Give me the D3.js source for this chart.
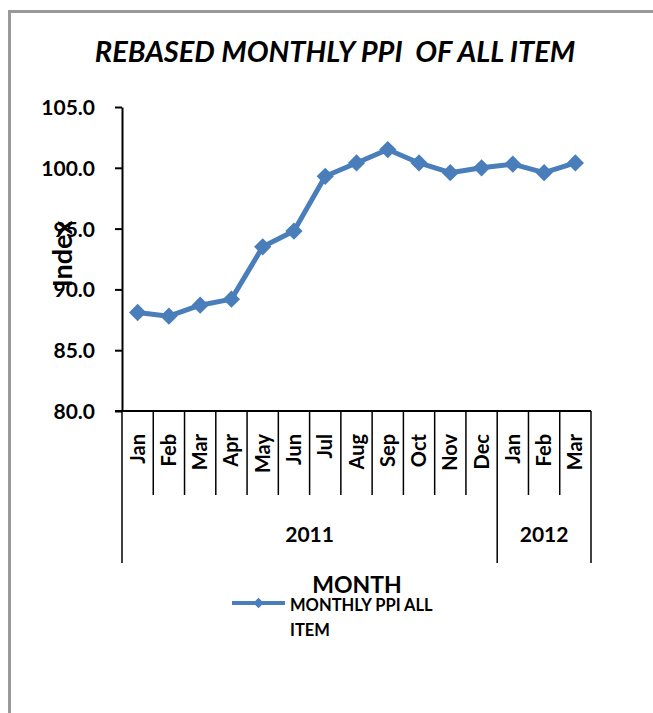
<!DOCTYPE html>
<html>
<head>
<meta charset="utf-8">
<title>Rebased Monthly PPI</title>
<script src="https://d3js.org/d3.v7.min.js"></script>
<style>
body { margin: 0; background: #fff; }
svg text { font-family: Lato, "Open Sans", sans-serif; font-weight: bold; fill: #000; }
</style>
</head>
<body>
<div id="chart"></div>
<script>
// values
var months = ["Jan", "Feb", "Mar", "Apr", "May", "Jun", "Jul", "Aug", "Sep", "Oct", "Nov", "Dec", "Jan", "Feb", "Mar"];
var years = [{label: "2011", start: 0, end: 12}, {label: "2012", start: 12, end: 15}];
var ppi = [88.1, 87.8, 88.7, 89.2, 93.5, 94.8, 99.3, 100.4, 101.5, 100.4, 99.6, 100.0, 100.3, 99.6, 100.4];
var yTicks = [80, 85, 90, 95, 100, 105];

var width = 653, height = 713;
var blue = "#4a7ebb";

var svg = d3.select("#chart").append("svg")
    .attr("width", width)
    .attr("height", height);

/* frame */
svg.append("path")
    .attr("d", "M9.5," + height + "V11.5H" + width)
    .attr("fill", "none")
    .attr("stroke", "#999")
    .attr("stroke-width", 3);

/* scales */
var x = d3.scaleBand()
    .domain(d3.range(months.length))
    .range([122, 591])
    .padding(0);

var y = d3.scaleLinear()
    .domain([80, 105])
    .range([411, 107]);

/* title */
svg.append("text")
    .attr("x", 335)
    .attr("y", 62)
    .attr("text-anchor", "middle")
    .attr("xml:space", "preserve")
    .style("font-size", "29px")
    .style("font-style", "italic")
    .text("REBASED MONTHLY PPI  OF ALL ITEM");

/* y axis */
var yAxis = svg.append("g")
    .attr("transform", "translate(" + x.range()[0] + ",0)")
    .call(d3.axisLeft(y).tickValues(yTicks).tickSize(7).tickSizeOuter(0).tickFormat(d3.format(".1f")));
yAxis.select(".domain").attr("stroke", "#000").attr("stroke-width", 2);
yAxis.selectAll(".tick line").attr("stroke", "#000").attr("stroke-width", 2);
yAxis.selectAll(".tick text")
    .attr("x", -27)
    .attr("dy", "0.36em")
    .style("font-size", "21px")
    .style("font-family", "Lato, sans-serif");

/* x axis line */
svg.append("line")
    .attr("x1", x.range()[0] - 7)
    .attr("x2", x.range()[1])
    .attr("y1", y(80))
    .attr("y2", y(80))
    .attr("stroke", "#000")
    .attr("stroke-width", 2);

/* month dividers */
var bounds = d3.range(months.length + 1);
var yearBreaks = [];
years.forEach(function(d) { yearBreaks.push(d.start, d.end); });

svg.append("g").selectAll("line")
    .data(bounds)
    .join("line")
    .attr("x1", function(i) { return i < months.length ? x(i) : x.range()[1]; })
    .attr("x2", function(i) { return i < months.length ? x(i) : x.range()[1]; })
    .attr("y1", y(80))
    .attr("y2", function(i) { return yearBreaks.indexOf(i) >= 0 ? 563 : 495; })
    .attr("stroke", "#000")
    .attr("stroke-width", 1.5);

/* month labels */
svg.append("g").selectAll("text")
    .data(months)
    .join("text")
    .attr("transform", function(d, i) {
      return "translate(" + (x(i) + x.bandwidth() / 2 + 7) + ",434) rotate(-90)";
    })
    .attr("text-anchor", "end")
    .style("font-size", "20px")
    .text(function(d) { return d; });

/* year labels */
svg.append("g").selectAll("text")
    .data(years)
    .join("text")
    .attr("x", function(d) { return (x(d.start) + (d.end < months.length ? x(d.end) : x.range()[1])) / 2; })
    .attr("y", 542)
    .attr("text-anchor", "middle")
    .style("font-size", "21px")
    .text(function(d) { return d.label; });

/* axis titles */
svg.append("text")
    .attr("transform", "translate(72,254) rotate(-90)")
    .attr("text-anchor", "middle")
    .style("font-size", "27px")
    .text("Index");

svg.append("text")
    .attr("x", 357)
    .attr("y", 593)
    .attr("text-anchor", "middle")
    .style("font-size", "23px")
    .text("MONTH");

/* series */
var line = d3.line()
    .x(function(d, i) { return x(i) + x.bandwidth() / 2; })
    .y(function(d) { return y(d); });

svg.append("path")
    .datum(ppi)
    .attr("d", line)
    .attr("fill", "none")
    .attr("stroke", blue)
    .attr("stroke-width", 5)
    .attr("stroke-linejoin", "round");

var diamond = d3.symbol().type(d3.symbolDiamond2).size(190);

svg.append("g").selectAll("path")
    .data(ppi)
    .join("path")
    .attr("transform", function(d, i) { return "translate(" + (x(i) + x.bandwidth() / 2) + "," + y(d) + ")"; })
    .attr("d", diamond)
    .attr("fill", blue);

/* legend */
var legend = svg.append("g").attr("transform", "translate(232,603)");
legend.append("line")
    .attr("x1", 0).attr("x2", 53)
    .attr("stroke", blue)
    .attr("stroke-width", 4);
legend.append("path")
    .attr("transform", "translate(26.5,0)")
    .attr("d", d3.symbol().type(d3.symbolDiamond2).size(70))
    .attr("fill", blue);
legend.append("text")
    .attr("x", 58).attr("y", 8)
    .style("font-size", "16.5px")
    .text("MONTHLY PPI ALL");
legend.append("text")
    .attr("x", 58).attr("y", 33)
    .style("font-size", "16.5px")
    .text("ITEM");
</script>
</body>
</html>
